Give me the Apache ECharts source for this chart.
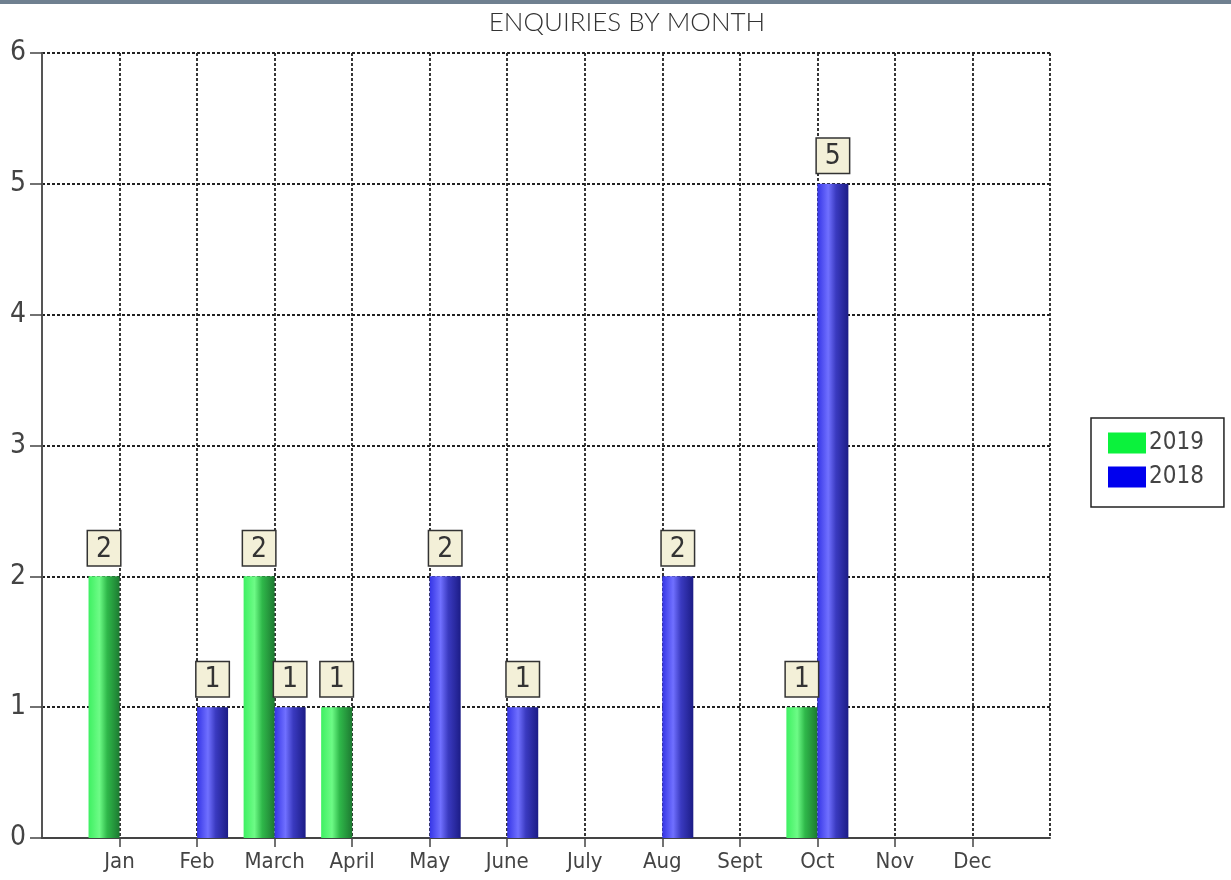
<!DOCTYPE html>
<html>
<head>
<meta charset="utf-8">
<script src="https://cdn.jsdelivr.net/npm/echarts@6/dist/echarts.min.js"></script>
<style>
html,body{margin:0;padding:0;background:#fff;}
#topbar{position:absolute;left:0;top:0;width:1231px;height:4px;background:#6f8090;}
#chart{position:absolute;left:0;top:0;width:1231px;height:880px;}
</style>
</head>
<body>
<div id="chart"></div>
<div id="topbar"></div>
<script>
const months = ['', 'Jan', 'Feb', 'March', 'April', 'May', 'June', 'July', 'Aug', 'Sept', 'Oct', 'Nov', 'Dec', ''];
const values2019 = [null, 2, null, 2, 1, null, null, null, null, null, 1, null, null, null];
const values2018 = [null, null, 1, 1, null, 2, 1, null, 2, null, 5, null, null, null];
const yTicks = [0, 1, 2, 3, 4, 5, 6];

const narrow = "'Liberation Sans Narrow', 'DejaVu Sans Condensed', 'Liberation Sans', sans-serif";

function grad(c0, c1, c2, c3) {
  return new echarts.graphic.LinearGradient(0, 0, 1, 0, [
    {offset: 0, color: c0},
    {offset: 0.35, color: c1},
    {offset: 0.6, color: c2},
    {offset: 1, color: c3}
  ]);
}

const labelCfg = {
  show: true,
  position: 'top',
  distance: 11,
  formatter: p => (p.value == null ? '' : p.value),
  backgroundColor: '#f3f0d8',
  borderColor: '#333',
  borderWidth: 1.5,
  padding: [4, 8, 2, 8],
  color: '#333',
  fontSize: 28,
  fontFamily: narrow
};

const chart = echarts.init(document.getElementById('chart'), null, {renderer: 'canvas'});
chart.setOption({
  animation: false,
  backgroundColor: '#fff',
  title: {
    text: 'ENQUIRIES BY MONTH',
    left: 622,
    textAlign: 'center',
    top: 5,
    textStyle: {fontFamily: 'Lato', fontWeight: 300, fontSize: 26, color: '#333'}
  },
  grid: {left: 42, right: 181, top: 53, bottom: 42, containLabel: false},
  legend: {
    orient: 'vertical',
    left: 1091,
    top: 418,
    padding: [13, 20, 18, 17],
    borderColor: '#222',
    borderWidth: 1.5,
    itemWidth: 38,
    itemHeight: 21,
    itemGap: 10,
    icon: 'rect',
    textStyle: {fontFamily: narrow, fontSize: 24, color: '#444', padding: [0, 0, 0, -2]},
    data: [
      {name: '2019', itemStyle: {color: '#0bf23c'}},
      {name: '2018', itemStyle: {color: '#0000ee'}}
    ]
  },
  xAxis: {
    type: 'category',
    data: months,
    boundaryGap: false,
    axisLine: {show: true, lineStyle: {color: '#444', width: 2}},
    axisTick: {show: true, length: 9, lineStyle: {color: '#444', width: 1.5},
      interval: (i) => i > 0 && i < months.length - 1},
    axisLabel: {color: '#444', fontSize: 22, fontFamily: narrow, margin: 13,
      interval: 0},
    splitLine: {show: true, lineStyle: {color: '#222', type: [3, 2], width: 1.8}}
  },
  yAxis: {
    type: 'value',
    min: 0,
    max: 6,
    interval: 1,
    axisLine: {show: true, lineStyle: {color: '#555', width: 2}},
    axisTick: {show: true, length: 12, lineStyle: {color: '#444', width: 1.5}},
    axisLabel: {color: '#444', fontSize: 28, fontFamily: narrow, margin: 16,
      formatter: v => (yTicks.includes(v) ? String(v) : '')},
    splitLine: {show: true, lineStyle: {color: '#222', type: [3, 2], width: 1.8}}
  },
  series: [
    {
      name: '2019',
      type: 'bar',
      data: values2019,
      barWidth: 31,
      barGap: '0%',
      itemStyle: {color: grad('#3ef062', '#6dfb86', '#2fb84a', '#1d7a31')},
      label: labelCfg
    },
    {
      name: '2018',
      type: 'bar',
      data: values2018,
      barWidth: 31,
      barGap: '0%',
      itemStyle: {color: grad('#3535e6', '#7070ff', '#3a3ac0', '#1c1c86')},
      label: labelCfg
    }
  ]
});
</script>
</body>
</html>
